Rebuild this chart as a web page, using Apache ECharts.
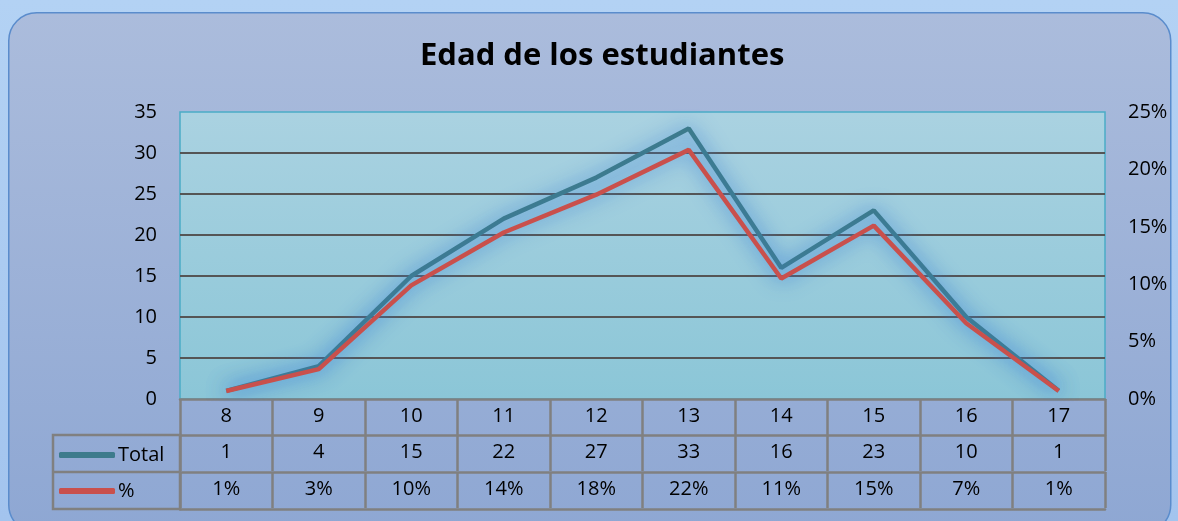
<!DOCTYPE html>
<html lang="es">
<head>
    <meta charset="UTF-8"/>
    <title>Edad de los estudiantes</title>
    <script src="https://cdn.jsdelivr.net/npm/echarts@6.0.0/dist/echarts.min.js"></script>
    <style>
        * { margin: 0; padding: 0; box-sizing: border-box; }
        html, body { width: 1178px; height: 521px; overflow: hidden; }
        #gen { width: 1178px; height: 521px; }
    </style>
</head>
<body>
<div id="gen"></div>
<script>
    // datos
    const edades = ['8', '9', '10', '11', '12', '13', '14', '15', '16', '17'];
    const total = [1, 4, 15, 22, 27, 33, 16, 23, 10, 1];
    const porcentaje = [0.7, 2.6, 9.9, 14.5, 17.8, 21.7, 10.5, 15.1, 6.6, 0.7];
    const porcentajeTxt = ['1%', '3%', '10%', '14%', '18%', '22%', '11%', '15%', '7%', '1%'];

    const fuente = "'Open Sans', 'Noto Sans', sans-serif";
    const gris = '#808080';

    // fila de la tabla de datos debajo del grafico (mismas categorias, otro texto)
    function filaTabla(textos, offset) {
        return {
            type: 'category',
            gridIndex: 0,
            position: 'bottom',
            offset: offset,
            data: edades,
            boundaryGap: true,
            axisLine: { show: true, onZero: false, lineStyle: { color: gris, width: 2.5 } },
            axisTick: { show: true, interval: 0, length: 36, lineStyle: { color: gris, width: 2.5 } },
            axisLabel: {
                show: true, interval: 0, margin: 7, color: '#000', fontSize: 20, fontFamily: fuente,
                formatter: function (v, i) { return String(textos[i]); }
            },
            splitLine: { show: false }
        };
    }

    const chart = echarts.init(document.getElementById('gen'));
    chart.setOption({
        animation: false,
        backgroundColor: {
            type: 'linear', x: 0, y: 0, x2: 0, y2: 1,
            colorStops: [{ offset: 0, color: '#b3d2f4' }, { offset: 1, color: '#a3c4ee' }]
        },
        graphic: [
            {
                type: 'rect', z: -10, left: 8, top: 12,
                shape: { width: 1162, height: 520, r: 28 },
                style: {
                    fill: {
                        type: 'linear', x: 0, y: 0, x2: 0, y2: 1,
                        colorStops: [{ offset: 0, color: '#abbcdc' }, { offset: 1, color: '#8ea7d3' }]
                    },
                    stroke: '#5a8ccc', lineWidth: 1.5
                }
            },
            {
                type: 'rect', z: 10, x: 53, y: 435,
                shape: { x: 0, y: 0, width: 127, height: 74 },
                style: { fill: null, stroke: gris, lineWidth: 2.5 }
            },
            {
                type: 'line', z: 10,
                shape: { x1: 53, y1: 472, x2: 180, y2: 472 },
                style: { stroke: gris, lineWidth: 2.5 }
            }
        ],
        title: {
            text: 'Edad de los estudiantes',
            left: 415,
            top: 36,
            textStyle: { fontFamily: fuente, fontSize: 31, fontWeight: 'bold', color: '#000' }
        },
        legend: {
            orient: 'vertical',
            left: 54,
            top: 440,
            itemGap: 16,
            itemWidth: 56,
            itemHeight: 6,
            icon: 'roundRect',
            textStyle: { fontFamily: fuente, fontSize: 20, color: '#000', padding: [0, 0, 0, -2] },
            data: ['Total', '%']
        },
        grid: {
            left: 180, right: 73, top: 112, bottom: 122,
            show: true,
            borderColor: '#4bacc6',
            borderWidth: 1.5,
            backgroundColor: {
                type: 'linear', x: 0, y: 0, x2: 0, y2: 1,
                colorStops: [{ offset: 0, color: '#aad2e1' }, { offset: 1, color: '#8bc6d7' }]
            }
        },
        xAxis: [
            filaTabla(edades, 0),
            filaTabla(total, 36),
            filaTabla(porcentajeTxt, 73),
            {
                type: 'category', position: 'bottom', offset: 110, data: edades,
                axisLine: { show: true, onZero: false, lineStyle: { color: gris, width: 2.5 } },
                axisTick: { show: false }, axisLabel: { show: false }
            }
        ],
        yAxis: [
            {
                type: 'value', min: 0, max: 35, interval: 5,
                axisLine: { show: false }, axisTick: { show: false },
                axisLabel: { margin: 23, color: '#000', fontSize: 20, fontFamily: fuente },
                splitLine: { show: true, showMaxLine: false, showMinLine: false, lineStyle: { color: '#555', width: 2 } }
            },
            {
                type: 'value', min: 0, max: 25, interval: 5, position: 'right',
                axisLine: { show: false }, axisTick: { show: false },
                axisLabel: { margin: 23, color: '#000', fontSize: 20, fontFamily: fuente, formatter: '{value}%' },
                splitLine: { show: false }
            }
        ],
        series: [
            {
                name: 'Total', type: 'line', data: total,
                xAxisIndex: 0, yAxisIndex: 0,
                showSymbol: false, symbol: 'none',
                color: '#3d7b8c',
                lineStyle: { width: 4.5, color: '#3d7b8c', shadowBlur: 20, shadowColor: 'rgba(60,130,215,0.95)' }
            },
            {
                name: '%', type: 'line', data: porcentaje,
                xAxisIndex: 0, yAxisIndex: 1,
                showSymbol: false, symbol: 'none',
                color: '#c9504c',
                lineStyle: { width: 4.5, color: '#c9504c', shadowBlur: 20, shadowColor: 'rgba(60,130,215,0.95)' }
            }
        ]
    });
</script>
</body>
</html>
